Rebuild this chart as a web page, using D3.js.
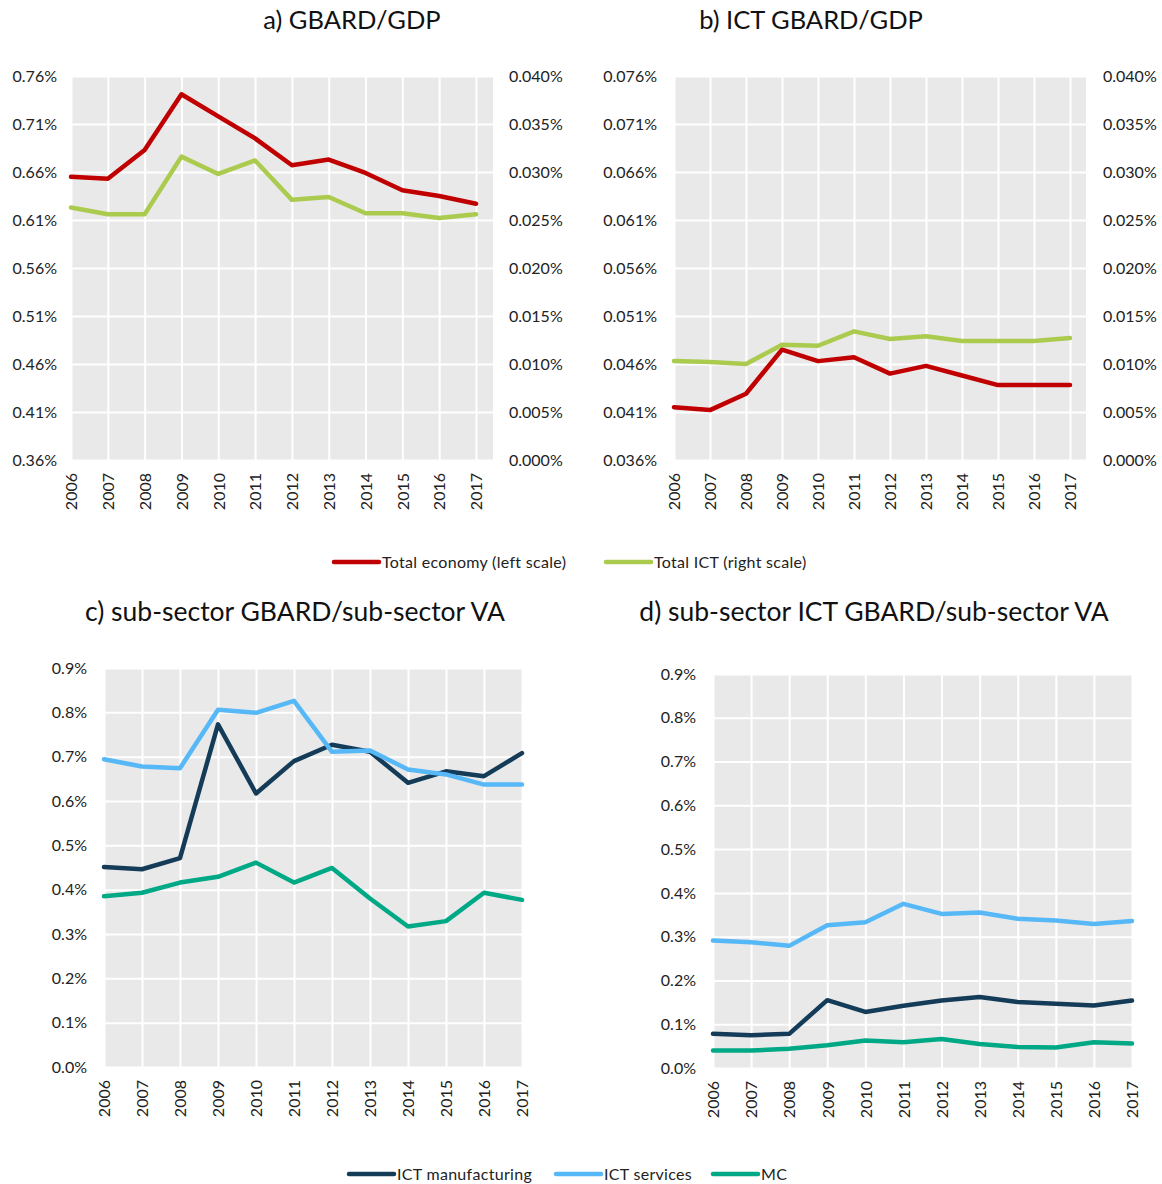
<!DOCTYPE html>
<html lang="en">
<head>
  <meta charset="UTF-8">
  <title>GBARD panels</title>
  <style>
    body {
      margin: 0;
      padding: 0;
      background: #fff;
      font-family: Lato, "Open Sans", sans-serif;
    }
    .tick text { fill: #222; }
  </style>
</head>
<body>
<svg width="1162" height="1184"></svg>
<script src="https://d3js.org/d3.v7.min.js"></script>
<script>
// categories
const years = [2006, 2007, 2008, 2009, 2010, 2011, 2012, 2013, 2014, 2015, 2016, 2017];

// a) GBARD/GDP (%)
const econGbardGdp = [0.655, 0.653, 0.683, 0.741, 0.718, 0.695, 0.667, 0.673, 0.659, 0.641, 0.635, 0.627];
const ictGbardGdp = [0.0263, 0.0256, 0.0256, 0.0316, 0.0298, 0.0312, 0.0271, 0.0274, 0.0257, 0.0257, 0.0252, 0.0256];

// b) ICT GBARD/GDP (%)
const econIctGbardGdp = [0.0415, 0.0412, 0.0429, 0.0475, 0.0463, 0.0467, 0.0450, 0.0458, 0.0448, 0.0438, 0.0438, 0.0438];
const ictIctGbardGdp = [0.0103, 0.0102, 0.0100, 0.0120, 0.0119, 0.0134, 0.0126, 0.0129, 0.0124, 0.0124, 0.0124, 0.0127];

// c) sub-sector GBARD / sub-sector VA (%)
const manufGbardVa = [0.451, 0.446, 0.471, 0.773, 0.617, 0.690, 0.727, 0.711, 0.641, 0.667, 0.656, 0.708];
const servGbardVa = [0.694, 0.678, 0.674, 0.806, 0.799, 0.826, 0.711, 0.714, 0.671, 0.660, 0.637, 0.637];
const mcGbardVa = [0.385, 0.393, 0.416, 0.429, 0.461, 0.416, 0.449, 0.380, 0.317, 0.329, 0.393, 0.377];

// d) sub-sector ICT GBARD / sub-sector VA (%)
const manufIctGbardVa = [0.078, 0.075, 0.078, 0.155, 0.128, 0.142, 0.154, 0.162, 0.151, 0.147, 0.143, 0.154];
const servIctGbardVa = [0.291, 0.287, 0.279, 0.326, 0.333, 0.375, 0.352, 0.355, 0.341, 0.337, 0.329, 0.336];
const mcIctGbardVa = [0.040, 0.040, 0.044, 0.052, 0.063, 0.059, 0.066, 0.055, 0.048, 0.047, 0.059, 0.056];

// tick labels
const leftTicksA = [0.36, 0.41, 0.46, 0.51, 0.56, 0.61, 0.66, 0.71, 0.76];
const leftTicksB = [0.036, 0.041, 0.046, 0.051, 0.056, 0.061, 0.066, 0.071, 0.076];
const rightTicksAB = [0, 0.005, 0.010, 0.015, 0.020, 0.025, 0.030, 0.035, 0.040];
const ticksCD = [0, 0.1, 0.2, 0.3, 0.4, 0.5, 0.6, 0.7, 0.8, 0.9];

const RED = "#c00000", LIME = "#abcb4f", NAVY = "#143c58", SKY = "#57b8f7", TEAL = "#00a985";
const BG = "#e9e9e9";
const FONT = 16;

const svg = d3.select("svg");

function pct(fmt) {
  const f = d3.format(fmt);
  return d => f(d) + "%";
}

function drawPanel(p) {
  const g = svg.append("g");
  const bottom = p.top + p.height;
  const x = d3.scaleLinear().domain([years[0], years[years.length - 1]]).range([p.left, p.xEnd]);
  const y = d3.scaleLinear().domain([p.leftTicks[0], p.leftTicks[p.leftTicks.length - 1]]).range([bottom, p.top]);

  g.append("rect")
    .attr("x", p.left).attr("y", p.top)
    .attr("width", p.width).attr("height", p.height)
    .attr("fill", BG);

  // gridlines
  g.append("g")
    .attr("transform", `translate(${p.left},0)`)
    .call(d3.axisLeft(y).tickValues(p.leftTicks).tickSize(-p.width).tickFormat(""))
    .call(a => a.select(".domain").remove())
    .call(a => a.selectAll("line").attr("stroke", "#fff").attr("stroke-width", 2));
  g.append("g")
    .attr("transform", `translate(0,${bottom})`)
    .call(d3.axisBottom(x).tickValues(years).tickSize(-p.height).tickFormat(""))
    .call(a => a.select(".domain").remove())
    .call(a => a.selectAll("line").attr("stroke", "#fff").attr("stroke-width", 2));

  // left axis labels
  g.append("g")
    .attr("transform", `translate(${p.left},0)`)
    .call(d3.axisLeft(y).tickValues(p.leftTicks).tickSize(0).tickPadding(p.padL).tickFormat(pct(p.leftFmt)))
    .call(a => a.select(".domain").remove())
    .call(a => a.selectAll("text").style("font-size", FONT + "px").style("font-family", "Lato"));

  // year labels
  g.append("g")
    .attr("transform", `translate(0,${bottom})`)
    .call(d3.axisBottom(x).tickValues(years).tickSize(0).tickFormat(d3.format("d")))
    .call(a => a.select(".domain").remove())
    .call(a => a.selectAll("text")
      .attr("transform", "rotate(-90)")
      .attr("text-anchor", "end")
      .attr("x", -13).attr("y", 0).attr("dy", "0.36em")
      .style("font-size", FONT + "px").style("font-family", "Lato"));

  let y2 = null;
  if (p.rightTicks) {
    y2 = d3.scaleLinear().domain([p.rightTicks[0], p.rightTicks[p.rightTicks.length - 1]]).range([bottom, p.top]);
    g.append("g")
      .attr("transform", `translate(${p.left + p.width},0)`)
      .call(d3.axisRight(y2).tickValues(p.rightTicks).tickSize(0).tickPadding(p.padR).tickFormat(pct(".3f")))
      .call(a => a.select(".domain").remove())
      .call(a => a.selectAll("text").style("font-size", FONT + "px").style("font-family", "Lato"));
  }

  p.series.forEach(s => {
    const ys = s.right ? y2 : y;
    const line = d3.line().x((d, i) => x(years[i])).y(d => ys(d));
    g.append("path")
      .datum(s.values)
      .attr("d", line)
      .attr("fill", "none")
      .attr("stroke", s.color)
      .attr("stroke-width", 4.5)
      .attr("stroke-linejoin", "round")
      .attr("stroke-linecap", "round");
  });

  g.append("text")
    .attr("x", p.titleX).attr("y", p.titleY)
    .attr("text-anchor", "middle")
    .style("font-size", p.titleSize + "px").style("font-family", "Lato")
    .attr("fill", "#111")
    .text(p.title);
}

drawPanel({
  title: "a) GBARD/GDP", titleX: 352, titleY: 29, titleSize: 25.5,
  left: 71, top: 76, width: 422, height: 384, xEnd: 476,
  leftTicks: leftTicksA, leftFmt: ".2f", padL: 14,
  rightTicks: rightTicksAB, padR: 16,
  series: [
    {values: econGbardGdp, color: RED},
    {values: ictGbardGdp, color: LIME, right: true}
  ]
});

drawPanel({
  title: "b) ICT GBARD/GDP", titleX: 811, titleY: 29, titleSize: 25.5,
  left: 674, top: 76, width: 412, height: 384, xEnd: 1070,
  leftTicks: leftTicksB, leftFmt: ".3f", padL: 17,
  rightTicks: rightTicksAB, padR: 17,
  series: [
    {values: econIctGbardGdp, color: RED},
    {values: ictIctGbardGdp, color: LIME, right: true}
  ]
});

drawPanel({
  title: "c) sub-sector GBARD/sub-sector VA", titleX: 295, titleY: 621, titleSize: 26.5,
  left: 104, top: 668, width: 418, height: 399, xEnd: 522,
  leftTicks: ticksCD, leftFmt: ".1f", padL: 17,
  series: [
    {values: manufGbardVa, color: NAVY},
    {values: servGbardVa, color: SKY},
    {values: mcGbardVa, color: TEAL}
  ]
});

drawPanel({
  title: "d) sub-sector ICT GBARD/sub-sector VA", titleX: 874, titleY: 621, titleSize: 26.5,
  left: 713, top: 674, width: 419, height: 394, xEnd: 1132,
  leftTicks: ticksCD, leftFmt: ".1f", padL: 17,
  series: [
    {values: manufIctGbardVa, color: NAVY},
    {values: servIctGbardVa, color: SKY},
    {values: mcIctGbardVa, color: TEAL}
  ]
});

// legends
function legend(items, cy) {
  const g = svg.append("g");
  items.forEach(it => {
    g.append("line")
      .attr("x1", it.x).attr("x2", it.x + 45)
      .attr("y1", cy).attr("y2", cy)
      .attr("stroke", it.color).attr("stroke-width", 4.5)
      .attr("stroke-linecap", "round");
    g.append("text")
      .attr("x", it.x + 48).attr("y", cy).attr("dy", "0.35em")
      .style("font-size", FONT + "px").style("font-family", "Lato")
      .style("letter-spacing", "0.3px")
      .attr("fill", "#222")
      .text(it.label);
  });
}

legend([
  {label: "Total economy (left scale)", color: RED, x: 334},
  {label: "Total ICT (right scale)", color: LIME, x: 606}
], 562);

legend([
  {label: "ICT manufacturing", color: NAVY, x: 349},
  {label: "ICT services", color: SKY, x: 556},
  {label: "MC", color: TEAL, x: 713}
], 1174);
</script>
</body>
</html>
